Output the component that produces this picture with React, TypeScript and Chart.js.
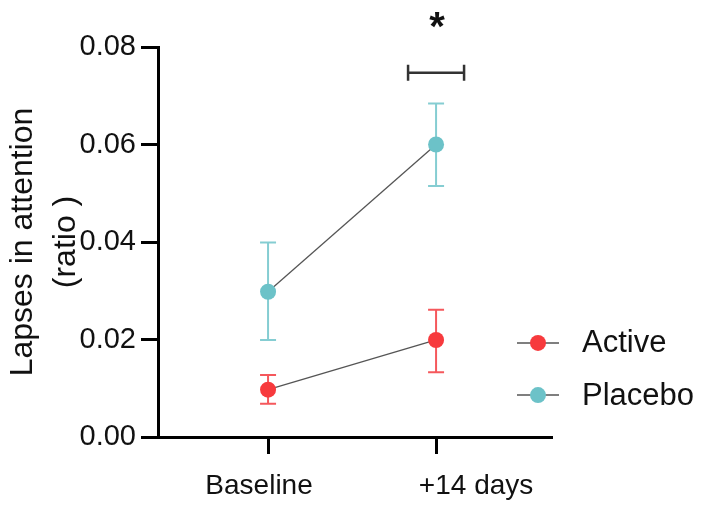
import React, { useEffect, useRef } from "react";
import { Chart, registerables } from "chart.js";

Chart.register(...registerables);

// Time points along the x axis
const timepoints = ["Baseline", "+14 days"];

// Group means (lapses in attention, ratio)
const activeMean = [0.0097, 0.0199];
const placeboMean = [0.0298, 0.06];

// Error bar extents [lower, upper] per time point
const activeErrLow = [0.0068, 0.0133];
const activeErrHigh = [0.0127, 0.0261];
const placeboErrLow = [0.0199, 0.0515];
const placeboErrHigh = [0.0399, 0.0684];

// y-axis ticks
const yTicks = [0, 0.02, 0.04, 0.06, 0.08];

// Significance marker between groups at +14 days
const sigIndex = 1;
const sigLevel = 0.0747;
const sigStarLevel = 0.0855;
const sigLabel = "*";

const FONT = "'Liberation Sans', Arial, Helvetica, sans-serif";
const RED = "#f73a3d";
const RED_BAR = "#f5585c";
const CYAN = "#6cc2c8";
const CYAN_BAR = "#85cdd2";
const LINK = "#555555";

// horizontal nudge of each category label relative to its tick
const labelShift = [-9, 40];

type Series = {
  label: string;
  mean: number[];
  low: number[];
  high: number[];
  color: string;
  barColor: string;
};

const series: Series[] = [
  { label: "Active", mean: activeMean, low: activeErrLow, high: activeErrHigh, color: RED, barColor: RED_BAR },
  { label: "Placebo", mean: placeboMean, low: placeboErrLow, high: placeboErrHigh, color: CYAN, barColor: CYAN_BAR },
];

const errorBarPlugin = {
  id: "errorBars",
  beforeDatasetsDraw(chart: any) {
    const { ctx, scales } = chart;
    const xs = scales.x;
    const ys = scales.y;
    ctx.save();
    ctx.lineWidth = 2;
    series.forEach((s) => {
      ctx.strokeStyle = s.barColor;
      s.mean.forEach((_, i) => {
        const x = xs.getPixelForValue(i);
        const yl = ys.getPixelForValue(s.low[i]);
        const yh = ys.getPixelForValue(s.high[i]);
        ctx.beginPath();
        ctx.moveTo(x, yl);
        ctx.lineTo(x, yh);
        ctx.moveTo(x - 8, yl);
        ctx.lineTo(x + 8, yl);
        ctx.moveTo(x - 8, yh);
        ctx.lineTo(x + 8, yh);
        ctx.stroke();
      });
    });
    ctx.restore();
  },
};

const annotationPlugin = {
  id: "sigAndLegend",
  afterDraw(chart: any) {
    const { ctx, scales, chartArea } = chart;
    const xs = scales.x;
    const ys = scales.y;
    ctx.save();

    // category labels under the x axis
    ctx.fillStyle = "#111111";
    ctx.font = `28px ${FONT}`;
    ctx.textAlign = "center";
    ctx.textBaseline = "alphabetic";
    timepoints.forEach((t, i) => {
      ctx.fillText(t, xs.getPixelForValue(i) + labelShift[i], chartArea.bottom + 57);
    });

    // significance bracket
    const cx = xs.getPixelForValue(sigIndex);
    const by = ys.getPixelForValue(sigLevel);
    ctx.strokeStyle = "#333333";
    ctx.lineWidth = 2.5;
    ctx.beginPath();
    ctx.moveTo(cx - 28, by);
    ctx.lineTo(cx + 28, by);
    ctx.moveTo(cx - 28, by - 8);
    ctx.lineTo(cx - 28, by + 8);
    ctx.moveTo(cx + 28, by - 8);
    ctx.lineTo(cx + 28, by + 8);
    ctx.stroke();

    ctx.fillStyle = "#111111";
    ctx.font = `bold 40px ${FONT}`;
    ctx.textAlign = "center";
    ctx.textBaseline = "alphabetic";
    const m = ctx.measureText(sigLabel);
    const sy = ys.getPixelForValue(sigStarLevel);
    const base = sy + (m.actualBoundingBoxAscent - m.actualBoundingBoxDescent) / 2;
    ctx.fillText(sigLabel, cx + 1, base);

    // legend
    const lx = chartArea.right - 35;
    const rowY = [ys.getPixelForValue(0.0193), ys.getPixelForValue(0.0086)];
    series.forEach((s, i) => {
      const y = rowY[i];
      ctx.strokeStyle = LINK;
      ctx.lineWidth = 1.5;
      ctx.beginPath();
      ctx.moveTo(lx, y);
      ctx.lineTo(lx + 42, y);
      ctx.stroke();
      ctx.fillStyle = s.color;
      ctx.beginPath();
      ctx.arc(lx + 21, y, 8, 0, Math.PI * 2);
      ctx.fill();
      ctx.fillStyle = "#111111";
      ctx.font = `31px ${FONT}`;
      ctx.textAlign = "left";
      ctx.textBaseline = "middle";
      ctx.fillText(s.label, lx + 65, y + 1);
    });
    ctx.restore();
  },
};

export default function App() {
  const ref = useRef<HTMLCanvasElement>(null);

  useEffect(() => {
    if (!ref.current) return;
    const chart = new Chart(ref.current, {
      type: "line",
      data: {
        datasets: series.map((s) => ({
          label: s.label,
          data: s.mean.map((v, i) => ({ x: i, y: v })),
          borderColor: LINK,
          borderWidth: 1.3,
          pointBackgroundColor: s.color,
          pointBorderWidth: 0,
          pointRadius: 8,
          pointHoverRadius: 8,
          fill: false,
          tension: 0,
        })),
      },
      plugins: [errorBarPlugin, annotationPlugin],
      options: {
        responsive: false,
        animation: false,
        devicePixelRatio: 1,
        layout: { padding: { top: 47, right: 157, left: 0, bottom: 0 } },
        plugins: {
          legend: { display: false },
          tooltip: { enabled: false },
        },
        scales: {
          x: {
            type: "linear",
            min: -0.655,
            max: 1.69,
            afterBuildTicks: (scale: any) => {
              scale.ticks = timepoints.map((_, i) => ({ value: i }));
            },
            afterFit: (scale: any) => {
              scale.height = 72;
            },
            border: { display: true, color: "#000000", width: 3 },
            grid: {
              drawOnChartArea: false,
              drawTicks: true,
              tickLength: 17,
              tickWidth: 3,
              tickColor: "#000000",
            },
            ticks: { display: false },
          },
          y: {
            min: 0,
            max: 0.08,
            afterBuildTicks: (scale: any) => {
              scale.ticks = yTicks.map((v) => ({ value: v }));
            },
            afterFit: (scale: any) => {
              scale.width = 158;
            },
            border: { display: true, color: "#000000", width: 3 },
            grid: {
              drawOnChartArea: false,
              drawTicks: true,
              tickLength: 17,
              tickWidth: 3,
              tickColor: "#000000",
            },
            ticks: {
              color: "#111111",
              padding: 5,
              font: { family: FONT, size: 29 },
              callback: (v: any) => Number(v).toFixed(2),
            },
            title: {
              display: true,
              text: ["Lapses in attention", "(ratio )"],
              color: "#111111",
              font: { family: FONT, size: 32, lineHeight: 1.36 },
              padding: { top: 1, bottom: 0 },
            },
          },
        },
      },
    });
    return () => chart.destroy();
  }, []);

  return (
    <div style={{ position: "fixed", left: 0, top: 0, width: 709, height: 509, background: "#ffffff" }}>
      <canvas ref={ref} width={709} height={509} />
    </div>
  );
}
